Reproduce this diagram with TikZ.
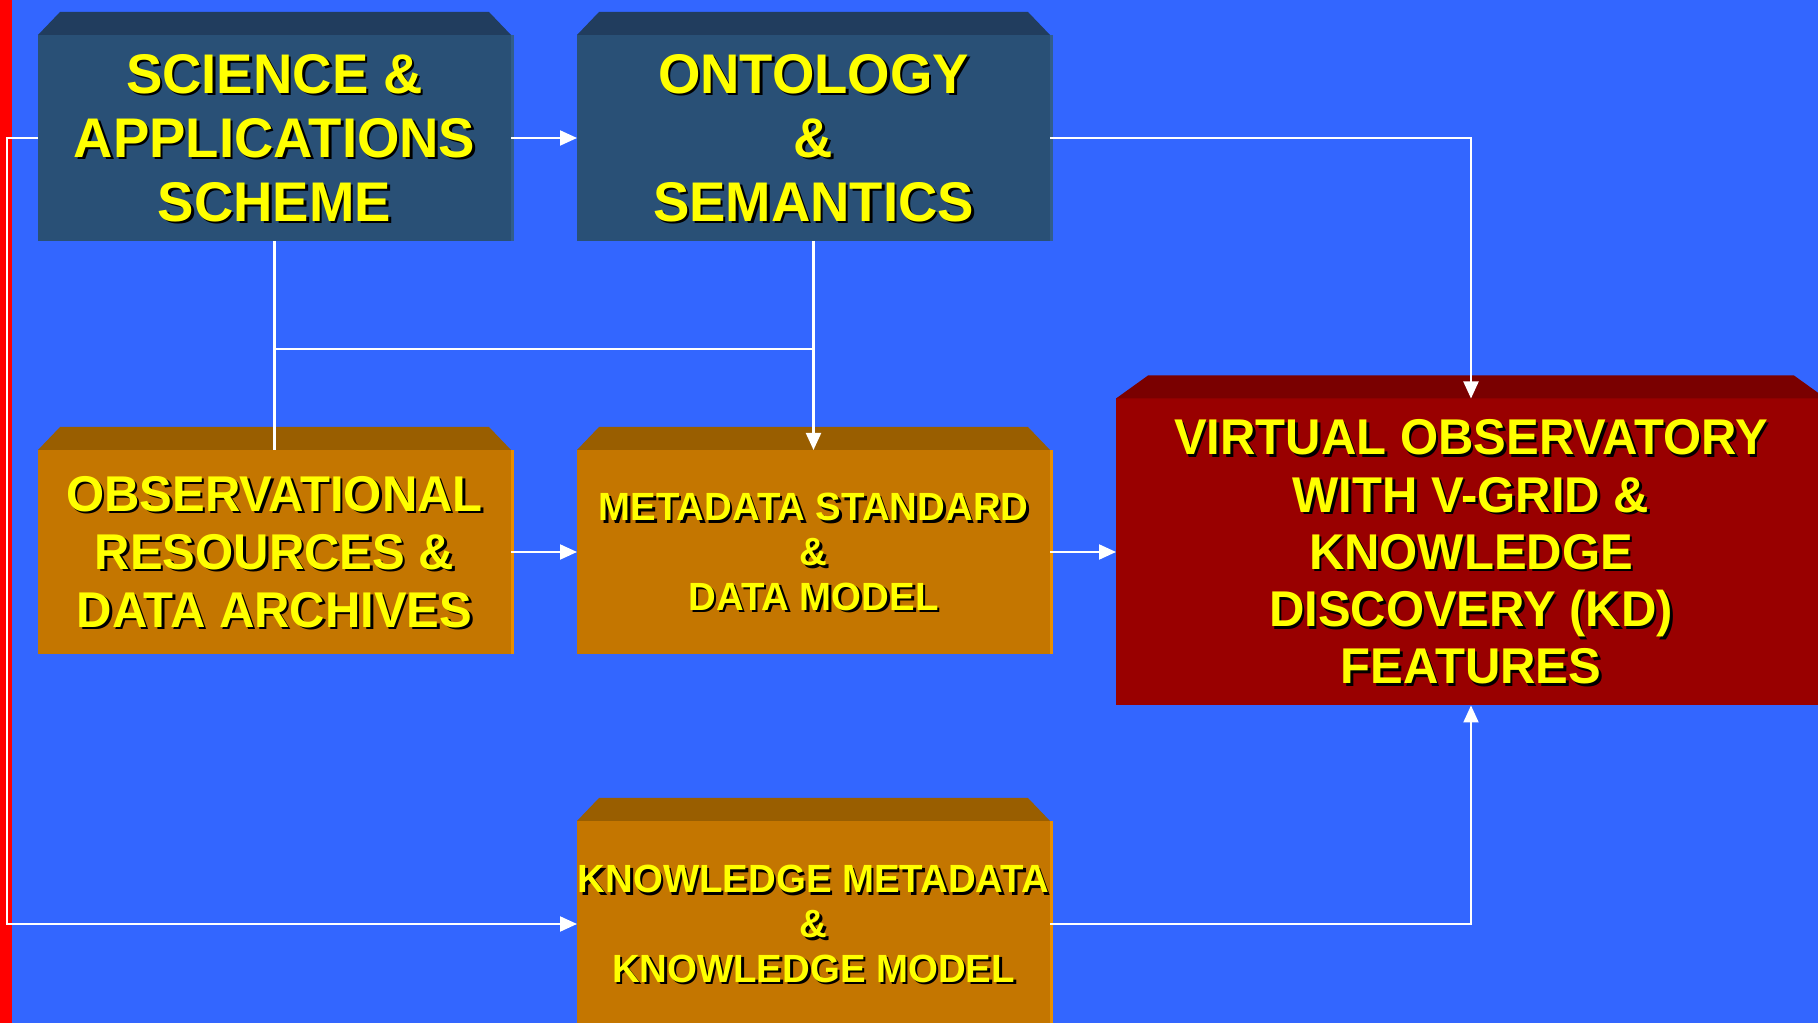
\documentclass[tikz,border=0pt]{standalone}
\usepackage{fontspec}
\setmainfont{Liberation Sans}
\newfontfamily\boxfont{Liberation Sans}[FakeStretch=0.975]
\usetikzlibrary{arrows.meta,positioning,calc}
\definecolor{slideblue}{RGB}{51,102,255}
\definecolor{slidered}{RGB}{255,0,0}
\definecolor{slatefront}{RGB}{41,80,118}
\definecolor{slatetop}{RGB}{33,61,94}
\definecolor{slateedge}{RGB}{50,94,140}
\definecolor{amberfront}{RGB}{196,118,0}
\definecolor{ambertop}{RGB}{153,94,0}
\definecolor{amberedge}{RGB}{234,142,0}
\definecolor{wine}{RGB}{153,0,0}
\definecolor{winetop}{RGB}{122,0,0}
\definecolor{labelyellow}{RGB}{255,255,0}

% slanted top face and light right edge of a box
\newcommand{\boxtop}[4]{%
    \fill[#2] (#1.north west) -- ++(#4,0.23) -- ($(#1.north east)+(-#4,0.23)$) -- (#1.north east) -- cycle;
    \fill[#3] (#1.north east) rectangle ([xshift=0.03cm]#1.south east);
}
% yellow label with a black drop shadow
\newcommand{\boxlabel}[3]{%
    \node[labelshadow, font=#2] (#1-shadow) at ([shift={(0.025,-0.025)}]#1.center) {#3};
    \node[labeltext, font=#2] (#1-text) at (#1.center) {#3};
}

\begin{document}
\begin{tikzpicture}[
    box/.style={minimum width=4.73cm, minimum height=2.06cm, inner sep=0pt, outer sep=0pt},
    slatebox/.style={box, fill=slatefront},
    amberbox/.style={box, fill=amberfront},
    winebox/.style={box, fill=wine, minimum width=7.10cm, minimum height=3.07cm},
    labeltext/.style={align=center, text=labelyellow},
    labelshadow/.style={align=center, text=black},
    link/.style={draw=white, line width=0.6pt},
    flow/.style={link, -{Triangle[length=0.17cm, width=0.15cm]}}
]
    % Background and left bar
    \useasboundingbox (0,0) rectangle (18.18,-10.23);
    \fill[slideblue] (0,0) rectangle (18.18,-10.23);
    \clip (0,0) rectangle (18.18,-10.23);
    \fill[slidered] (0,0) rectangle (0.12,-10.23);

    % Top row
    \node[slatebox] (sci) at (2.745,-1.38) {};
    \node[slatebox, right=0.66cm of sci] (onto) {};

    % Middle row
    \node[amberbox, minimum height=2.04cm, below=2.09cm of sci] (obs) {};
    \node[amberbox, minimum height=2.04cm, right=0.66cm of obs] (meta) {};
    \node[winebox, right=0.66cm of meta] (vo) {};

    % Bottom row
    \node[amberbox, below=1.67cm of meta] (know) {};

    \boxtop{sci}{slatetop}{slateedge}{0.22}
    \boxtop{onto}{slatetop}{slateedge}{0.22}
    \boxtop{obs}{ambertop}{amberedge}{0.22}
    \boxtop{meta}{ambertop}{amberedge}{0.22}
    \boxtop{know}{ambertop}{amberedge}{0.22}
    \boxtop{vo}{winetop}{wine}{0.32}

    % Labels
    \boxlabel{sci}{\boxfont\bfseries\fontsize{15.9}{18.2}\selectfont}{SCIENCE \&\\APPLICATIONS\\SCHEME}
    \boxlabel{onto}{\boxfont\bfseries\fontsize{15.9}{18.2}\selectfont}{ONTOLOGY\\\&\\SEMANTICS}
    \boxlabel{obs}{\boxfont\bfseries\fontsize{14.3}{16.5}\selectfont}{OBSERVATIONAL\\RESOURCES \&\\DATA ARCHIVES}
    \boxlabel{meta}{\boxfont\bfseries\fontsize{11.2}{12.7}\selectfont}{METADATA STANDARD\\\&\\DATA MODEL}
    \boxlabel{vo}{\boxfont\bfseries\fontsize{14.3}{16.3}\selectfont}{VIRTUAL OBSERVATORY\\WITH V-GRID \&\\KNOWLEDGE\\DISCOVERY (KD)\\FEATURES}
    \boxlabel{know}{\boxfont\bfseries\fontsize{11.2}{12.7}\selectfont}{KNOWLEDGE METADATA\\\&\\KNOWLEDGE MODEL}

    % Connectors
    \coordinate (split) at ($(sci.south)!0.515!(obs.north)$);
    \coordinate (loop) at (0.07,0);
    \draw[flow] (sci.east) -- (onto.west);
    \draw[flow] (onto.east) -| (vo.north);
    \draw[link] (sci.south) -- (obs.north);
    \draw[link] (sci.south |- split) -- (onto.south |- split);
    \draw[flow] (onto.south) -- (meta.north);
    \draw[flow] (obs.east) -- (meta.west);
    \draw[flow] (meta.east) -- (meta.east -| vo.west);
    \draw[flow] (sci.west) -- (sci.west -| loop) |- (know.west);
    \draw[flow] (know.east) -| (vo.south);
\end{tikzpicture}
\end{document}
